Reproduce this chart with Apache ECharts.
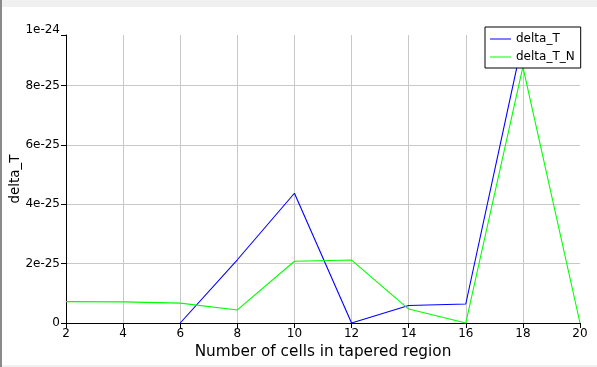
<!DOCTYPE html>
<html>
<head>
<meta charset="utf-8">
<script src="https://cdn.jsdelivr.net/npm/echarts@6/dist/echarts.min.js"></script>
<style>
html, body { margin: 0; padding: 0; background: #f0f0f0; }
#wrap { position: relative; width: 597px; height: 367px; overflow: hidden; background: #f0f0f0; }
#white { position: absolute; left: 2px; top: 7px; width: 595px; height: 358px; background: #ffffff; }
#lstrip { position: absolute; left: 0; top: 0; width: 2px; height: 367px; background: #8a8a8a; }
#chart { position: absolute; left: 0; top: 0; width: 597px; height: 367px; }
</style>
</head>
<body>
<div id="wrap">
  <div id="white"></div>
  <div id="lstrip"></div>
  <div id="chart"></div>
</div>
<script>
// Number of cells in tapered region
const cells = [2, 4, 6, 8, 10, 12, 14, 16, 18, 20];
// Values in units of 1e-25 (null = no point drawn)
const deltaT  = [null, null, 0, 2.13, 4.37, 0, 0.59, 0.64, 9.55, null];
const deltaTN = [0.72, 0.71, 0.67, 0.44, 2.08, 2.12, 0.47, 0, 8.63, 0];
const yUnit = 1e-25;
const yMax = 9.7; // axis top (data maximum), labelled "1e-24"
const seriesNames = ['delta_T', 'delta_T_N'];

const pairs = (arr) => cells.map((c, i) => [c, arr[i]]);
const FONT = 'DejaVu Sans';

const chart = echarts.init(document.getElementById('chart'), null, { renderer: 'canvas' });
chart.setOption({
  backgroundColor: 'transparent',
  animation: false,
  grid: { left: 66, right: 17, top: 35, bottom: 44, containLabel: false, outerBoundsMode: 'none' },
  legend: {
    data: seriesNames,
    orient: 'vertical',
    left: 485,
    top: 27,
    padding: [5, 6, 4, 5],
    itemGap: 4,
    icon: 'rect',
    itemWidth: 21,
    itemHeight: 1,
    backgroundColor: '#ffffff',
    borderColor: '#000000',
    borderWidth: 1,
    borderRadius: 0,
    textStyle: { fontFamily: FONT, fontSize: 12, color: '#000000', lineHeight: 14 }
  },
  xAxis: {
    type: 'value',
    min: 2,
    max: 20,
    interval: 2,
    name: 'Number of cells in tapered region',
    nameLocation: 'middle',
    nameGap: 22,
    nameMoveOverlap: false,
    nameTextStyle: { fontFamily: FONT, fontSize: 15.3, color: '#000000' },
    axisLine: { show: true, onZero: false, lineStyle: { color: '#000000', width: 1 } },
    axisTick: { show: true, length: 5, lineStyle: { color: '#000000' } },
    axisLabel: { fontFamily: FONT, fontSize: 12, color: '#000000', margin: 5 },
    splitLine: { show: true, showMinLine: false, showMaxLine: false, lineStyle: { color: '#c8c8c8', width: 1 } }
  },
  yAxis: {
    type: 'value',
    min: 0,
    max: yMax,
    interval: 2,
    name: 'delta_T',
    nameLocation: 'middle',
    nameGap: 44,
    nameMoveOverlap: false,
    nameTextStyle: { fontFamily: FONT, fontSize: 13.5, color: '#000000' },
    axisLine: { show: true, lineStyle: { color: '#000000', width: 1 } },
    axisTick: { show: true, length: 5, lineStyle: { color: '#000000' } },
    axisLabel: {
      fontFamily: FONT, fontSize: 12, color: '#000000', margin: 6,
      formatter: (v) => {
        if (v === 0) return '0';
        const s = (v * yUnit).toExponential(0);
        return v === yMax ? '{top|' + s + '}' : s;
      },
      rich: { top: { fontFamily: FONT, fontSize: 12, color: '#000000', padding: [0, 0, 11, 0] } }
    },
    splitLine: { show: true, showMinLine: false, showMaxLine: false, lineStyle: { color: '#c8c8c8', width: 1 } }
  },
  series: [
    {
      name: seriesNames[0], type: 'line', data: pairs(deltaT),
      symbol: 'none', connectNulls: false, clip: false,
      lineStyle: { color: '#0000ff', width: 1.1 }, itemStyle: { color: '#0000ff' }
    },
    {
      name: seriesNames[1], type: 'line', data: pairs(deltaTN),
      symbol: 'none', connectNulls: false, clip: false,
      lineStyle: { color: '#00ff00', width: 1.1 }, itemStyle: { color: '#00ff00' }
    }
  ]
});
</script>
</body>
</html>
